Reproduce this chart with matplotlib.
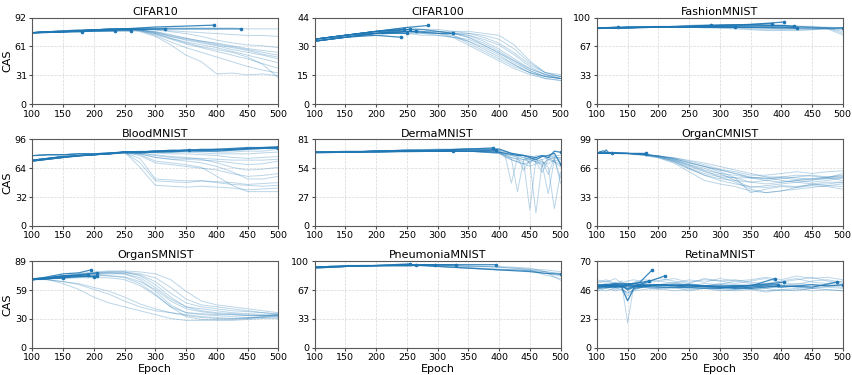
import matplotlib
matplotlib.use('Agg')
import matplotlib.pyplot as plt
import numpy as np

# Epoch grids
epochs = [100, 125, 150, 175, 200, 225, 250, 275, 300, 325, 350, 375, 400, 425, 450, 475, 500]
derma_epochs = [100, 150, 200, 250, 300, 350, 400, 410, 420, 430, 440, 450, 460, 470, 480, 490, 500]
retina_epochs = [100, 115, 130, 140, 150, 160, 175, 200, 225, 250, 275, 300, 325, 350, 375, 400, 425, 450, 475, 500]

titles = ['CIFAR10', 'CIFAR100', 'FashionMNIST', 'BloodMNIST', 'DermaMNIST',
          'OrganCMNIST', 'OrganSMNIST', 'PneumoniaMNIST', 'RetinaMNIST']
y_max = [92, 44, 100, 96, 81, 99, 89, 100, 70]
y_labels = [['0', '31', '61', '92'], ['0', '15', '30', '44'], ['0', '33', '67', '100'],
            ['0', '32', '64', '96'], ['0', '27', '54', '81'], ['0', '33', '66', '99'],
            ['0', '30', '59', '89'], ['0', '33', '67', '100'], ['0', '23', '46', '70']]

# CAS per run (full runs, faint) and early-stopped runs (dark, end marker)
cifar10_runs = [
    [76, 77, 78, 79, 79, 80, 80, 81, 81, 81, 81, 81, 81, 81, 80, 80, 80],
    [76, 77, 78, 79, 79, 80, 80, 80, 79, 78, 77, 76, 75, 74, 73, 73, 72],
    [76, 77, 78, 78, 79, 80, 80, 80, 79, 77, 75, 72, 68, 65, 63, 62, 60],
    [76, 77, 77, 78, 79, 79, 80, 79, 77, 74, 70, 67, 65, 62, 59, 57, 55],
    [76, 77, 78, 78, 79, 79, 80, 79, 76, 72, 68, 65, 62, 58, 55, 52, 48],
    [75, 76, 77, 78, 79, 79, 79, 78, 75, 70, 66, 63, 60, 56, 52, 48, 44],
    [76, 77, 77, 78, 79, 79, 80, 78, 74, 69, 64, 60, 56, 52, 48, 43, 38],
    [76, 77, 78, 78, 79, 80, 80, 78, 73, 66, 60, 55, 50, 45, 40, 36, 33],
    [75, 76, 77, 78, 78, 79, 79, 77, 72, 63, 52, 45, 32, 33, 31, 32, 30],
    [76, 77, 78, 79, 79, 80, 80, 79, 75, 70, 65, 61, 58, 55, 50, 42, 28],
    [76, 77, 78, 78, 79, 80, 80, 79, 76, 72, 69, 66, 63, 60, 57, 53, 50],
    [76, 76, 77, 78, 79, 79, 80, 79, 77, 73, 70, 67, 64, 61, 58, 55, 52],
]
cifar10_stopped = [
    ([100, 150, 200, 250, 300, 350, 395], [76, 77, 79, 80, 82, 83, 84]),
    ([100, 150, 200, 250, 300, 350, 400, 440], [76, 77, 79, 80, 80, 80, 80, 80]),
    ([100, 150, 200, 250, 315], [76, 77, 78, 79, 80]),
    ([100, 150, 200, 260], [76, 77, 78, 78]),
    ([100, 150, 180], [76, 77, 77]),
    ([100, 165, 235], [76, 77, 78]),
]

cifar100_runs = [
    [33, 34, 35, 36, 37, 38, 38, 38, 37, 36, 34, 31, 27, 22, 17, 14, 13],
    [32, 33, 35, 36, 36, 37, 37, 37, 37, 36, 35, 33, 30, 25, 19, 15, 13],
    [33, 34, 35, 36, 37, 37, 38, 38, 37, 37, 36, 35, 33, 28, 21, 16, 14],
    [32, 33, 34, 35, 36, 36, 37, 37, 36, 35, 32, 28, 24, 20, 16, 14, 13],
    [33, 34, 35, 36, 37, 38, 38, 37, 37, 36, 34, 30, 26, 22, 18, 15, 14],
    [32, 33, 34, 35, 36, 37, 37, 37, 36, 34, 30, 26, 22, 18, 15, 13, 12],
    [33, 34, 35, 36, 37, 37, 38, 38, 38, 37, 37, 36, 35, 30, 22, 16, 14],
    [32, 33, 35, 36, 36, 37, 37, 36, 36, 35, 31, 27, 23, 19, 16, 14, 13],
    [33, 34, 35, 36, 37, 38, 39, 38, 37, 36, 35, 32, 28, 23, 18, 15, 13],
    [32, 33, 34, 35, 36, 36, 36, 35, 35, 34, 32, 29, 25, 20, 16, 13, 12],
    [33, 34, 35, 36, 37, 37, 38, 38, 37, 36, 36, 34, 31, 26, 20, 16, 15],
    [32, 33, 34, 35, 35, 36, 36, 36, 35, 34, 33, 30, 26, 21, 17, 14, 13],
]
cifar100_stopped = [
    ([100, 150, 200, 250, 285], [33, 35, 37, 39, 40]),
    ([100, 150, 200, 250, 300, 325], [33, 35, 36, 37, 36, 36]),
    ([100, 150, 200, 240], [32, 34, 35, 34]),
    ([100, 150, 200, 255], [33, 35, 37, 38]),
    ([100, 150, 200, 265], [32, 34, 36, 37]),
    ([100, 150, 200, 245], [33, 35, 37, 38]),
    ([100, 150, 200, 250], [32, 34, 36, 36]),
]

fashion_runs = [
    [88, 88, 89, 89, 89, 90, 90, 91, 91, 91, 91, 91, 90, 90, 89, 89, 88],
    [88, 88, 88, 89, 89, 89, 90, 90, 90, 89, 89, 88, 87, 87, 87, 88, 88],
    [87, 88, 88, 88, 89, 89, 89, 90, 90, 90, 90, 90, 90, 90, 90, 88, 84],
    [88, 88, 89, 89, 89, 90, 90, 91, 92, 92, 92, 91, 91, 90, 89, 87, 80],
    [88, 88, 88, 89, 89, 89, 89, 89, 88, 88, 87, 86, 86, 86, 86, 87, 88],
    [87, 88, 88, 89, 89, 90, 90, 90, 91, 91, 91, 90, 90, 89, 88, 87, 86],
    [88, 88, 89, 89, 90, 90, 91, 92, 92, 92, 92, 92, 91, 90, 89, 88, 82],
    [88, 88, 88, 89, 89, 89, 89, 88, 88, 87, 86, 85, 85, 85, 86, 87, 88],
]
fashion_stopped = [
    ([100, 150, 200, 250, 300, 385], [88, 89, 89, 90, 91, 93]),
    ([100, 150, 200, 250, 300, 350, 405], [88, 89, 89, 90, 91, 92, 95]),
    ([100, 150, 200, 250, 285], [88, 88, 89, 90, 91]),
    ([100, 200, 300, 405, 420], [88, 89, 90, 91, 90]),
    ([100, 200, 300, 400, 425], [88, 89, 89, 89, 88]),
    ([100, 200, 300, 400, 500], [88, 89, 89, 88, 88]),
    ([100, 135], [88, 89]),
    ([100, 200, 325], [88, 89, 89]),
]

blood_runs = [
    [73, 75, 77, 78, 79, 80, 82, 65, 45, 44, 43, 44, 43, 42, 40, 41, 42],
    [73, 75, 77, 78, 79, 80, 82, 70, 50, 49, 48, 50, 48, 46, 45, 44, 45],
    [73, 75, 77, 78, 79, 80, 81, 75, 52, 51, 50, 50, 49, 48, 46, 47, 48],
    [73, 75, 77, 78, 79, 80, 82, 78, 70, 68, 66, 64, 62, 58, 55, 56, 58],
    [78, 79, 79, 80, 80, 81, 82, 80, 76, 74, 72, 70, 66, 60, 52, 52, 55],
    [73, 75, 77, 78, 79, 80, 82, 81, 79, 77, 76, 74, 70, 65, 62, 63, 65],
    [78, 79, 79, 80, 80, 81, 82, 80, 76, 74, 74, 73, 72, 70, 68, 69, 72],
    [73, 75, 77, 78, 79, 80, 82, 81, 78, 76, 75, 75, 74, 73, 73, 73, 74],
    [78, 79, 79, 80, 80, 81, 82, 82, 81, 80, 80, 79, 78, 76, 75, 76, 77],
    [73, 75, 77, 78, 79, 80, 82, 82, 82, 82, 82, 81, 80, 80, 80, 81, 82],
    [73, 75, 77, 78, 79, 80, 81, 79, 72, 70, 68, 65, 55, 45, 38, 38, 38],
    [78, 79, 79, 80, 80, 81, 82, 83, 83, 84, 84, 83, 82, 82, 83, 83, 85],
]
blood_stopped = [
    (epochs, [72, 74, 76, 78, 79, 80, 82, 82, 83, 84, 84, 85, 85, 86, 87, 87, 88]),
    (epochs, [73, 75, 77, 78, 79, 80, 82, 82, 83, 83, 84, 84, 84, 85, 86, 87, 87]),
    (epochs, [78, 79, 79, 80, 80, 81, 82, 82, 83, 83, 84, 84, 85, 85, 86, 86, 87]),
    (epochs, [72, 74, 76, 78, 79, 80, 81, 81, 82, 82, 83, 83, 83, 84, 85, 86, 86]),
    ([100, 150, 200, 250, 300, 355], [72, 76, 79, 82, 82, 84]),
]

derma_runs = [
    [69, 69, 70, 70, 70, 70, 68, 66, 40, 64, 62, 60, 63, 55, 64, 60, 58],
    [69, 69, 69, 70, 70, 70, 69, 65, 63, 32, 62, 64, 60, 50, 62, 64, 62],
    [69, 70, 70, 71, 71, 71, 70, 67, 64, 62, 60, 15, 62, 60, 58, 62, 45],
    [69, 69, 70, 70, 70, 71, 69, 66, 62, 60, 58, 60, 12, 58, 62, 60, 55],
    [69, 69, 70, 70, 71, 71, 70, 68, 66, 64, 52, 62, 60, 58, 30, 62, 60],
    [68, 69, 69, 70, 70, 70, 68, 64, 62, 60, 58, 56, 58, 60, 55, 16, 50],
    [69, 69, 70, 71, 72, 72, 71, 69, 68, 66, 64, 62, 64, 66, 62, 64, 40],
    [69, 69, 70, 70, 70, 70, 69, 67, 66, 65, 64, 63, 64, 62, 64, 65, 63],
    [69, 70, 70, 71, 71, 72, 71, 70, 68, 67, 66, 58, 66, 65, 64, 66, 66],
    [68, 69, 69, 69, 70, 70, 68, 66, 64, 63, 62, 62, 60, 62, 48, 64, 64],
]
derma_stopped = [
    (derma_epochs, [69, 69, 70, 70, 71, 72, 72, 70, 68, 67, 66, 64, 62, 65, 66, 68, 58]),
    (derma_epochs, [69, 69, 70, 70, 70, 70, 69, 68, 67, 66, 66, 65, 64, 66, 64, 70, 69]),
    ([100, 150, 200, 250, 300, 350, 390], [69, 69, 70, 71, 71, 72, 73]),
    ([100, 150, 200, 250, 300, 350, 395], [69, 69, 70, 70, 70, 70, 71]),
    ([100, 150, 200, 250, 325], [69, 69, 69, 70, 70]),
]

organc_runs = [
    [83, 83, 83, 82, 80, 76, 70, 64, 60, 58, 55, 54, 56, 55, 53, 54, 55],
    [83, 83, 83, 82, 79, 74, 66, 58, 52, 48, 45, 44, 46, 45, 47, 48, 50],
    [83, 84, 83, 82, 80, 77, 72, 68, 64, 60, 55, 52, 50, 52, 54, 56, 58],
    [83, 83, 83, 81, 78, 72, 62, 52, 48, 45, 40, 38, 40, 42, 44, 46, 48],
    [83, 83, 83, 82, 80, 78, 74, 70, 65, 62, 58, 58, 60, 62, 60, 62, 63],
    [83, 83, 83, 82, 79, 75, 68, 62, 58, 55, 50, 48, 50, 52, 50, 52, 55],
    [83, 83, 83, 82, 80, 77, 73, 68, 62, 55, 38, 42, 45, 44, 46, 45, 42],
    [83, 83, 83, 81, 79, 74, 66, 60, 56, 55, 55, 56, 56, 58, 57, 55, 60],
    [83, 84, 83, 82, 80, 76, 70, 66, 60, 52, 44, 46, 48, 50, 48, 46, 45],
    [83, 83, 83, 82, 80, 78, 75, 72, 68, 64, 60, 56, 52, 50, 52, 55, 52],
    [83, 83, 83, 82, 79, 75, 69, 63, 56, 50, 42, 38, 40, 44, 48, 50, 50],
    [83, 83, 82, 81, 78, 73, 65, 58, 54, 52, 50, 52, 54, 56, 58, 56, 57],
    [83, 83, 83, 82, 80, 77, 72, 68, 64, 60, 56, 54, 55, 53, 54, 55, 56],
]
organc_stopped = [
    ([100, 105, 110, 115, 120, 130, 150, 180], [82, 85, 83, 87, 83, 84, 83, 83]),
    ([100, 120, 150, 180], [84, 83, 83, 82]),
    ([100, 110, 115, 125], [83, 86, 84, 84]),
]

organs_runs = [
    [71, 72, 74, 76, 77, 78, 78, 74, 65, 52, 42, 40, 38, 36, 35, 34, 33],
    [71, 72, 73, 75, 76, 77, 76, 70, 58, 44, 36, 35, 34, 34, 33, 33, 34],
    [70, 70, 68, 65, 60, 55, 48, 42, 38, 36, 33, 31, 30, 29, 30, 32, 33],
    [71, 70, 68, 66, 62, 58, 52, 45, 40, 36, 34, 32, 31, 30, 30, 31, 33],
    [71, 72, 74, 76, 78, 79, 79, 78, 76, 70, 58, 48, 44, 42, 40, 38, 36],
    [70, 71, 72, 74, 75, 76, 76, 72, 62, 50, 42, 38, 36, 35, 34, 33, 32],
    [71, 70, 66, 60, 52, 46, 42, 38, 34, 30, 28, 28, 29, 30, 31, 32, 35],
    [71, 72, 73, 74, 75, 74, 72, 66, 55, 42, 36, 34, 33, 32, 31, 31, 30],
    [70, 71, 72, 74, 76, 77, 77, 75, 68, 56, 46, 42, 40, 38, 37, 36, 35],
    [71, 72, 73, 75, 77, 78, 78, 76, 72, 62, 50, 44, 42, 40, 38, 36, 34],
    [71, 71, 72, 73, 74, 74, 73, 68, 60, 48, 40, 37, 35, 34, 33, 33, 33],
    [70, 71, 71, 72, 72, 72, 70, 64, 54, 42, 32, 29, 28, 28, 29, 30, 31],
]
organs_stopped = [
    ([100, 125, 150, 175, 195], [70, 73, 76, 77, 80]),
    ([100, 125, 150, 175, 205], [70, 72, 74, 75, 77]),
    ([100, 125, 150, 200], [71, 72, 74, 73]),
    ([100, 125, 150, 205], [70, 71, 72, 74]),
    ([100, 125, 150], [70, 71, 72]),
    ([100, 130, 190], [70, 72, 75]),
]

pneumonia_runs = [
    [93, 94, 94, 95, 95, 95, 95, 95, 95, 94, 93, 92, 91, 90, 89, 88, 86],
    [92, 93, 94, 94, 95, 95, 96, 96, 95, 95, 94, 94, 93, 92, 90, 84, 80],
    [93, 94, 94, 95, 95, 95, 95, 95, 94, 93, 92, 91, 90, 90, 90, 88, 85],
    [93, 93, 94, 94, 95, 95, 95, 95, 95, 95, 94, 94, 94, 93, 92, 88, 78],
    [92, 93, 94, 94, 94, 95, 95, 95, 94, 93, 92, 91, 90, 90, 89, 86, 83],
    [93, 94, 94, 95, 95, 95, 96, 96, 96, 95, 95, 94, 93, 92, 91, 90, 88],
]
pneumonia_stopped = [
    ([100, 150, 200, 250, 300, 350, 395], [92, 94, 95, 95, 96, 96, 96]),
    ([100, 150, 200, 255], [93, 95, 95, 97]),
    ([100, 150, 200, 265], [93, 94, 95, 96]),
    ([100, 150, 200, 250, 295], [93, 94, 95, 95, 96]),
    ([100, 150, 200, 250, 300, 330], [93, 94, 95, 96, 96, 96]),
    (epochs, [93, 94, 94, 95, 95, 95, 95, 95, 94, 93, 92, 91, 90, 89, 88, 86, 85]),
]

retina_runs = [
    [50, 52, 49, 51, 48, 52, 50, 51, 53, 50, 52, 51, 54, 52, 50, 53, 51, 54, 55, 53],
    [48, 50, 47, 49, 38, 47, 49, 48, 50, 49, 48, 50, 49, 47, 48, 50, 49, 48, 50, 49],
    [52, 54, 51, 53, 20, 50, 52, 54, 52, 55, 53, 56, 54, 55, 57, 55, 58, 56, 57, 55],
    [47, 46, 48, 47, 45, 46, 47, 48, 46, 47, 48, 46, 47, 48, 46, 47, 46, 48, 47, 46],
    [53, 55, 52, 54, 50, 53, 55, 54, 56, 53, 55, 54, 52, 54, 56, 53, 55, 57, 54, 52],
    [49, 51, 50, 52, 46, 49, 50, 49, 48, 50, 49, 48, 47, 49, 48, 46, 47, 48, 49, 48],
    [51, 50, 53, 49, 51, 50, 52, 51, 50, 52, 50, 51, 50, 49, 51, 50, 52, 51, 50, 51],
    [46, 48, 46, 47, 44, 47, 49, 47, 49, 46, 48, 47, 46, 47, 45, 47, 48, 46, 47, 46],
    [55, 53, 56, 52, 54, 55, 53, 56, 54, 52, 56, 54, 55, 53, 52, 54, 56, 53, 52, 54],
    [50, 49, 51, 50, 42, 48, 51, 50, 52, 51, 50, 52, 51, 50, 49, 51, 50, 49, 51, 50],
]
retina_stopped = [
    ([100, 130, 150, 170, 190], [50, 52, 51, 53, 63]),
    ([100, 130, 150, 175, 210], [49, 51, 48, 52, 58]),
    ([100, 150, 200, 250, 300, 350, 390], [50, 52, 50, 51, 49, 50, 56]),
    ([100, 150, 200, 300, 405], [48, 50, 49, 48, 53]),
    ([100, 150, 200, 250, 300, 350, 400, 450, 490], [49, 50, 51, 50, 49, 48, 50, 49, 53]),
    ([100, 140, 185], [51, 50, 54]),
    ([100, 140, 150, 160, 200, 300, 395], [50, 49, 38, 48, 51, 50, 51]),
    (retina_epochs, [50, 51, 49, 50, 47, 49, 50, 51, 50, 49, 50, 49, 48, 49, 50, 49, 50, 51, 50, 51]),
]

all_x = [epochs, epochs, epochs, epochs, derma_epochs, epochs, epochs, epochs, retina_epochs]
all_runs = [cifar10_runs, cifar100_runs, fashion_runs, blood_runs, derma_runs,
            organc_runs, organs_runs, pneumonia_runs, retina_runs]
all_stopped = [cifar10_stopped, cifar100_stopped, fashion_stopped, blood_stopped, derma_stopped,
               organc_stopped, organs_stopped, pneumonia_stopped, retina_stopped]

color = '#1f77b4'
fig, axes = plt.subplots(3, 3, figsize=(8.53, 3.75), dpi=100)
plt.subplots_adjust(left=0.038, right=0.988, bottom=0.073, top=0.953, wspace=0.148, hspace=0.41)

for i, ax in enumerate(axes.flat):
    for run in all_runs[i]:
        ax.plot(all_x[i], run, color=color, alpha=0.3, lw=0.7)
    for ex, ey in all_stopped[i]:
        ax.plot(ex, ey, color=color, alpha=0.85, lw=0.9)
        ax.plot(ex[-1], ey[-1], 'o', color=color, ms=1.6)
    ax.set_xlim(100, 500)
    ax.set_ylim(0, y_max[i])
    ax.set_xticks(np.arange(100, 501, 50))
    ax.set_yticks(np.linspace(0, y_max[i], 4))
    ax.set_yticklabels(y_labels[i])
    ax.tick_params(labelsize=6.8, length=2.5, pad=1.5, color='0.3')
    for s in ax.spines.values():
        s.set_color('0.35')
    ax.grid(True, linestyle='--', lw=0.5, alpha=0.5)
    ax.set_title(titles[i], fontsize=8, pad=2)
    if i % 3 == 0:
        ax.set_ylabel('CAS', fontsize=8, labelpad=1.5)
    if i >= 6:
        ax.set_xlabel('Epoch', fontsize=8, labelpad=1)

plt.savefig('out.png', dpi=100)
